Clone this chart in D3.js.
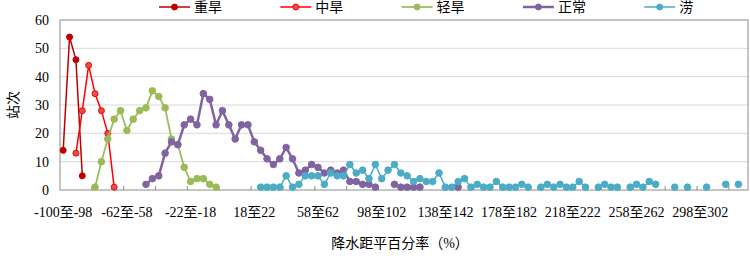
<!DOCTYPE html>
<html>
<head>
<meta charset="utf-8">
<script src="https://cdn.jsdelivr.net/npm/d3@7"></script>
<style>
  body { margin: 0; background: #fff; }
  svg text { fill: #000; }
</style>
</head>
<body>
<svg id="chart" width="750" height="259"></svg>
<script>

// categories: first bin is -100至-98, then 4%-wide bins centred on -96, -92, ... 328
var n_cats = 108;
var categories = [];
for (var k = 0; k < n_cats; k++) {
    if (k == 0) categories.push("-100至-98");
    else {
        var c = -100 + 4 * k;
        categories.push((c - 2) + "至" + (c + 2));
    }
}

// every 10th category gets a label
var tick_labels = ["-100至-98", "-62至-58", "-22至-18", "18至22", "58至62", "98至102",
                   "138至142", "178至182", "218至222", "258至262", "298至302"];
var y_ticks = [0, 10, 20, 30, 40, 50, 60];

var series_names = ["重旱", "中旱", "轻旱", "正常", "涝"];

// each series: index of first category + values (null = no data)
var severe_start = 0;
var severe = [14, 54, 46, 5];

var moderate_start = 2;
var moderate = [13, 28, 44, 34, 28, 20, 1];

var light_start = 5;
var light = [1, 10, 18, 25, 28, 21, 25, 28, 29, 35, 33, 29, 18, 16, 8, 3, 4, 4, 2, 1];

var normal_start = 13;
var normal = [2, 4, 5, 13, 17, 16, 23, 25, 23, 34, 32, 23, 28, 23, 18, 23, 23, 17, 14, 11,
              9, 11, 15, 11, 6, 7, 9, 8, 6, 7, 6, 7, 3, 3, 2, 2, 1, null, null, 2,
              1, 1, 1, 1, null, null, null, null, null, 1];

var flood_start = 31;
var flood = [1, 1, 1, 1, 5, 1, 2, 5, 5, 5, 2, 6, 5, 5, 9, 6, 7, 4, 9, 4,
             7, 9, 6, 5, 3, 4, 3, 3, 6, 1, 1, 3, 4, 1, 2, 1, 1, 3, 1, 1,
             1, 2, 1, null, 1, 2, 1, 2, 1, 1, 3, 1, null, 1, 2, 1, 1, null, 1, 2,
             1, 3, 2, null, null, 1, null, 1, null, null, 1, null, null, 2, null, 2];

var styles = [
    {line: "#c00000", fill: "#c00000", stroke: "#c00000", lw: 1.5, r: 3},
    {line: "#ff0000", fill: "#d9534f", stroke: "#ff0000", lw: 1.5, r: 3},
    {line: "#9bbb59", fill: "#9bbb59", stroke: "#9bbb59", lw: 1.75, r: 3.3},
    {line: "#8064a2", fill: "#8064a2", stroke: "#8064a2", lw: 2.5, r: 3.3},
    {line: "#4bacc6", fill: "#4bacc6", stroke: "#4bacc6", lw: 1.5, r: 3.3}
];

function to_points(start, values) {
    return values.map(function(v, i) { return {cat: categories[start + i], v: v}; });
}

var all_series = [
    to_points(severe_start, severe),
    to_points(moderate_start, moderate),
    to_points(light_start, light),
    to_points(normal_start, normal),
    to_points(flood_start, flood)
];

var svg = d3.select("#chart");
var margin = {left: 60, right: 2, top: 20, bottom: 69};
var width  = +svg.attr("width")  - margin.left - margin.right,
    height = +svg.attr("height") - margin.top  - margin.bottom;

var num_font = "'Liberation Serif', 'Times New Roman', serif";
var cjk_font = "'Liberation Serif', 'Noto Sans CJK SC', serif";

var x = d3.scaleBand().domain(categories).range([0, width]).padding(0);
var y = d3.scaleLinear().domain([0, 60]).range([height, 0]);
var xc = function(cat) { return x(cat) + x.bandwidth() / 2; };

var g = svg.append("g")
    .attr("transform", "translate(" + margin.left + "," + margin.top + ")");

// gridlines
g.append("g")
    .selectAll("line")
    .data(y_ticks.filter(function(t) { return t > 0 && t < 60; }))
    .enter().append("line")
        .attr("x1", 0).attr("x2", width)
        .attr("y1", function(d) { return y(d); })
        .attr("y2", function(d) { return y(d); })
        .attr("stroke", "#d9d9d9")
        .attr("stroke-width", 1);

// plot area border
g.append("rect")
    .attr("x", 0).attr("y", 0)
    .attr("width", width).attr("height", height)
    .attr("fill", "none")
    .attr("stroke", "#8c8c8c")
    .attr("stroke-width", 1);

// y axis
var yAxis = g.append("g")
    .attr("font-family", num_font)
    .attr("font-size", 14)
    .call(d3.axisLeft(y).tickValues(y_ticks).tickSize(0).tickPadding(11));
yAxis.select(".domain").remove();
yAxis.selectAll("text")
    .style("font-family", num_font)
    .style("font-size", "14px");

// x axis: tick marks every 5 categories at band edges (pointing inward)
var tick_idx = d3.range(5, n_cats, 5);
g.append("g")
    .selectAll("line")
    .data(tick_idx)
    .enter().append("line")
        .attr("x1", function(d) { return x(categories[d]); })
        .attr("x2", function(d) { return x(categories[d]); })
        .attr("y1", height).attr("y2", height - 4)
        .attr("stroke", "#8c8c8c");

var xAxis = g.append("g")
    .attr("transform", "translate(0," + height + ")")
    .attr("font-family", cjk_font)
    .attr("font-size", 14)
    .call(d3.axisBottom(x).tickValues(tick_labels).tickSize(0).tickPadding(17));
xAxis.select(".domain").remove();
xAxis.selectAll("text")
    .style("font-family", cjk_font)
    .style("font-size", "14px");

// series
var line = d3.line()
    .defined(function(d) { return d.v !== null; })
    .x(function(d) { return xc(d.cat); })
    .y(function(d) { return y(d.v); });

all_series.forEach(function(data, i) {
    var s = styles[i];
    var sg = g.append("g");
    sg.append("path")
        .datum(data)
        .attr("fill", "none")
        .attr("stroke", s.line)
        .attr("stroke-width", s.lw)
        .attr("stroke-linejoin", "round")
        .attr("d", line);
    sg.selectAll("circle")
        .data(data.filter(function(d) { return d.v !== null; }))
        .enter().append("circle")
            .attr("cx", function(d) { return xc(d.cat); })
            .attr("cy", function(d) { return y(d.v); })
            .attr("r", s.r)
            .attr("fill", s.fill)
            .attr("stroke", s.stroke)
            .attr("stroke-width", 1);
});

// legend
var legend = svg.append("g");
series_names.forEach(function(name, i) {
    var s = styles[i];
    var lx = 159 + i * 121.3, ly = 7;
    legend.append("line")
        .attr("x1", lx).attr("x2", lx + 31)
        .attr("y1", ly).attr("y2", ly)
        .attr("stroke", s.line).attr("stroke-width", s.lw);
    legend.append("circle")
        .attr("cx", lx + 15.5).attr("cy", ly).attr("r", 3)
        .attr("fill", s.fill).attr("stroke", s.stroke).attr("stroke-width", 1);
    legend.append("text")
        .attr("x", lx + 35).attr("y", ly + 5)
        .style("font-family", cjk_font)
        .style("font-size", "14px")
        .text(name);
});

// axis titles
svg.append("text")
    .attr("x", margin.left + width / 2 - 4)
    .attr("y", 248)
    .attr("text-anchor", "middle")
    .style("font-family", cjk_font)
    .style("font-size", "14px")
    .text("降水距平百分率（%）");

svg.append("text")
    .attr("transform", "translate(18," + (margin.top + height / 2) + ") rotate(-90)")
    .attr("text-anchor", "middle")
    .style("font-family", cjk_font)
    .style("font-size", "14px")
    .text("站次");

</script>
</body>
</html>
